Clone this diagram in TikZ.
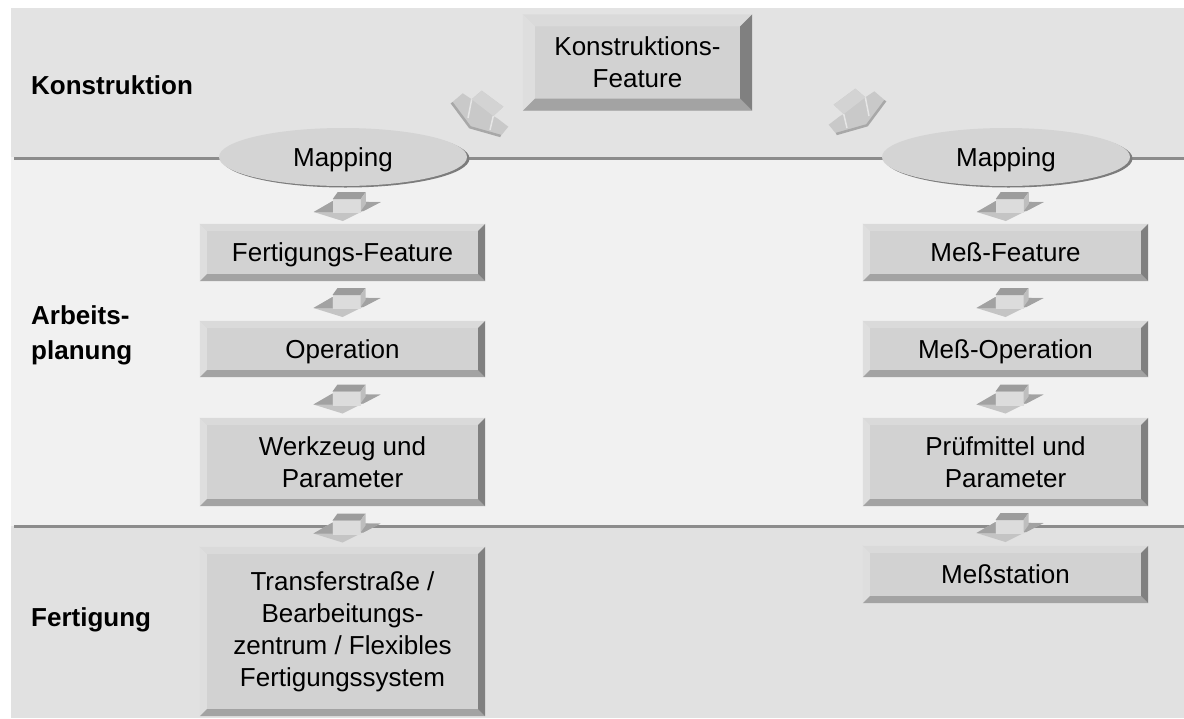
\documentclass[tikz,border=0pt]{standalone}
\usepackage{fontspec}
\setmainfont{Liberation Sans}
\usetikzlibrary{calc,shapes.geometric}

\definecolor{bandA}{HTML}{E3E3E3}
\definecolor{bandB}{HTML}{F1F1F1}
\definecolor{bandC}{HTML}{E1E1E1}
\definecolor{sepline}{HTML}{8C8C8C}
\definecolor{face}{HTML}{D2D2D2}
\definecolor{bevtop}{HTML}{DADADA}
\definecolor{bevleft}{HTML}{DEDEDE}
\definecolor{bevright}{HTML}{808080}
\definecolor{bevbottom}{HTML}{A3A3A3}
\definecolor{ellfill}{HTML}{D4D4D4}
\definecolor{ellshadow}{HTML}{7C7C7C}
\definecolor{arrhead}{HTML}{C4C4C4}
\definecolor{arrwing}{HTML}{A2A2A2}
\definecolor{arrfront}{HTML}{DCDCDC}
\definecolor{arrtop}{HTML}{9C9C9C}
\definecolor{arrside}{HTML}{BEBEBE}
\definecolor{tiltbody}{HTML}{C9C9C9}
\definecolor{tilttop}{HTML}{D3D3D3}
\definecolor{tiltedge}{HTML}{A8A8A8}
\definecolor{tiltlight}{HTML}{E6E6E6}

\tikzset{
  boxtext/.style={font=\fontsize{26}{32}\selectfont, align=center,
    fill=face, inner sep=0pt, text=black},
  oneline/.style={text height=18.6pt, text depth=0pt},
  lbl/.style={font=\fontsize{26}{35}\selectfont\bfseries, align=left,
    inner sep=0pt, text=black},
  mapnode/.style={ellipse, fill=ellfill, inner sep=0pt,
    minimum width=248pt, minimum height=58pt,
    text height=18.6pt, text depth=0pt, yshift=-1pt,
    font=\fontsize{26}{32}\selectfont, text=black},
  % straight block arrow pointing down
  blockarrow/.pic={
    \begin{scope}[shift={(-29,-15)}]
      \fill[arrhead] (0,20) -- (19,9) -- (67,10) -- (29,29) -- cycle;
      \fill[arrwing] (0,20) -- (19,9) -- (19,20) -- cycle;
      \fill[arrwing] (46,10) -- (67,10) -- (50,19) -- (46,19) -- cycle;
      \fill[arrfront] (19,7) rectangle (47,21);
      \fill[arrtop] (19,7) -- (24,0) -- (52,0) -- (47,7) -- cycle;
      \fill[arrside] (47,7) -- (52,0) -- (52,12) -- (47,19) -- cycle;
    \end{scope}
  },
  % block arrow seen at an angle, pointing down-left
  tiltarrow/.pic={
    \fill[tiltbody] (-28.3,-10.3) -- (-17.3,-19.7) -- (-8.3,-13.7) -- (1.7,-22.3)
      -- (23.3,-6.3) -- (13.3,3) -- (17.3,5.3) -- (28.3,13.7) -- (20.7,23)
      -- (-10,14.3) -- cycle;
    \fill[tilttop] (-8.3,-13.7) -- (1.7,-22.3) -- (23.3,-6.3) -- (13.3,3) -- cycle;
    \draw[tiltlight, line width=1.5pt] (-8.3,-13.7) -- (-12,5);
    \draw[tiltlight, line width=1.5pt] (13.3,3) -- (10,17);
    \draw[tiltedge, line width=2.5pt, line join=round]
      (-28.3,-10.3) -- (-10,14.3) -- (20.7,23);
  }
}

% bevelled box: [bevel] name, x1, y1, x2, y2, node options, text
\newcommand\bevelbox[8][7]{%
  \node[boxtext, minimum width={(#5-#3)*1pt}, minimum height={(#6-#4)*1pt}, #7]
    (#2) at ({(#3+#5)/2},{(#4+#6)/2}) {#8};
  \fill[bevtop] (#2.north west) -- (#2.north east)
    -- ($(#2.north east)+(-#1,#1)$) -- ($(#2.north west)+(#1,#1)$) -- cycle;
  \fill[bevleft] (#2.north west) -- ($(#2.north west)+(#1,#1)$)
    -- ($(#2.south west)+(#1,-#1)$) -- (#2.south west) -- cycle;
  \fill[bevbottom] (#2.south west) -- (#2.south east)
    -- ($(#2.south east)+(-#1,-#1)$) -- ($(#2.south west)+(#1,-#1)$) -- cycle;
  \fill[bevright] (#2.north east) -- (#2.south east)
    -- ($(#2.south east)+(-#1,-#1)$) -- ($(#2.north east)+(-#1,#1)$) -- cycle;
}

\begin{document}
\begin{tikzpicture}[x=1pt,y=-1pt]
  \useasboundingbox (0,0) rectangle (1184,718);
  \fill[white] (0,0) rectangle (1184,718);

  % three bands
  \fill[bandA] (11,8) rectangle (1184,157);
  \fill[bandB] (11,157) rectangle (1184,526);
  \fill[bandC] (11,526) rectangle (1184,718);
  \draw[sepline, line width=3pt] (14,158) -- (1184,158);
  \draw[sepline, line width=3pt] (14,526) -- (1184,526);

  % band labels
  \node[lbl, anchor=base west] (lkon) at (31,94) {Konstruktion};
  \node[lbl, anchor=west] (larb) at (31,335) {Arbeits-\\planung};
  \node[lbl, anchor=base west] (lfer) at (31,626) {Fertigung};

  % top box
  \bevelbox[12]{kf}{523}{13}{752}{109}{yshift=-1.5pt}{Konstruktions-\\Feature}

  % mapping ellipses
  \fill[ellshadow] (345.5,158.5) ellipse [x radius=124pt, y radius=29pt];
  \node[mapnode] (mapL) at (343,156) {Mapping};
  \fill[ellshadow] (1008.5,158.5) ellipse [x radius=124pt, y radius=29pt];
  \node[mapnode] (mapR) at (1006,156) {Mapping};

  % left column
  \bevelbox{ff}{200}{224}{485}{281}{oneline}{Fertigungs-Feature}
  \bevelbox{op}{200}{321}{485}{377}{oneline}{Operation}
  \bevelbox{wz}{200}{417}{485}{505}{yshift=-1pt}{Werkzeug und\\Parameter}
  \bevelbox{ts}{200}{546}{485}{715}{yshift=-1pt}{Transferstraße /\\Bearbeitungs-\\zentrum / Flexibles\\Fertigungssystem}

  % right column
  \bevelbox{mf}{863}{224}{1148}{281}{oneline}{Meß-Feature}
  \bevelbox{mo}{863}{321}{1148}{377}{oneline}{Meß-Operation}
  \bevelbox{pm}{863}{417}{1148}{505}{yshift=-1pt}{Prüfmittel und\\Parameter}
  \bevelbox{ms}{863}{546}{1148}{603}{oneline}{Meßstation}

  % block arrows between the stages
  \pic at ($(mapL.south)!0.5!(ff.north)+(0,2)$) {blockarrow};
  \pic at ($(ff.south)!0.5!(op.north)+(0,2)$) {blockarrow};
  \pic at ($(op.south)!0.5!(wz.north)+(0,2)$) {blockarrow};
  \pic at ($(wz.south)!0.5!(ts.north)+(0,2)$) {blockarrow};
  \pic at ($(mapR.south)!0.5!(mf.north)+(0,2)$) {blockarrow};
  \pic at ($(mf.south)!0.5!(mo.north)+(0,2)$) {blockarrow};
  \pic at ($(mo.south)!0.5!(pm.north)+(0,2)$) {blockarrow};
  \pic at ($(pm.south)!0.5!(ms.north)+(0,2)$) {blockarrow};

  % tilted arrows from the design feature to both mappings
  \pic at (480,113) {tiltarrow};
  \pic[xscale=-1] at (857,111) {tiltarrow};
\end{tikzpicture}
\end{document}
